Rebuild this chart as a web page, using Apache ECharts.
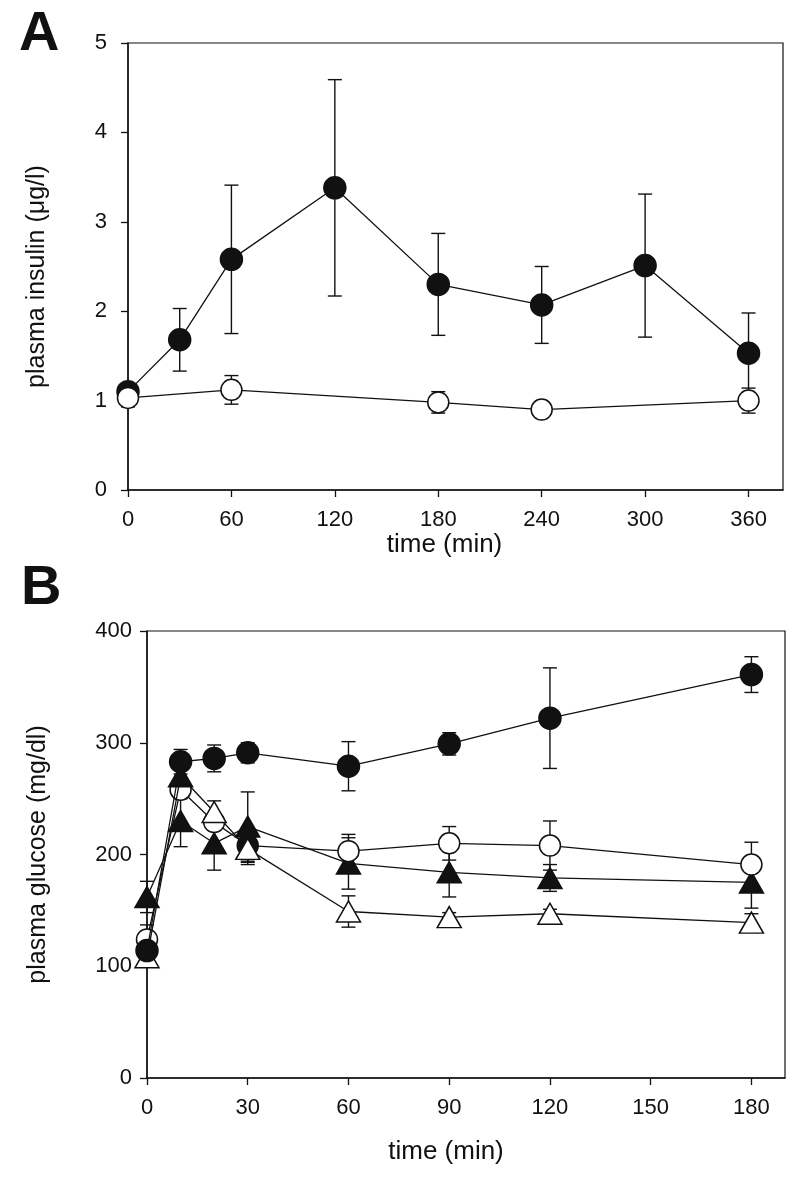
<!DOCTYPE html>
<html>
<head>
<meta charset="utf-8">
<script src="https://cdn.jsdelivr.net/npm/echarts@6/dist/echarts.min.js"></script>
<style>
html,body{margin:0;padding:0;background:#fff;}
#chart{width:800px;height:1180px;}
</style>
</head>
<body>
<div id="chart"></div>
<script>
// ---------- Panel A: plasma insulin ----------
const timeA = [0, 30, 60, 120, 180, 240, 300, 360];
const insulinFilled = [1.10, 1.68, 2.58, 3.38, 2.30, 2.07, 2.51, 1.53];
const insulinFilledErr = [0.05, 0.35, 0.83, 1.21, 0.57, 0.43, 0.80, 0.45];
const timeAOpen = [0, 60, 180, 240, 360];
const insulinOpen = [1.03, 1.12, 0.98, 0.90, 1.00];
const insulinOpenErr = [0.10, 0.16, 0.12, 0.04, 0.14];
const ticksAX = [0, 60, 120, 180, 240, 300, 360];

// ---------- Panel B: plasma glucose ----------
const timeB = [0, 10, 20, 30, 60, 90, 120, 180];
const glucFilledCircle = [114, 283, 286, 291, 279, 299, 322, 361];
const glucFilledCircleErr = [5, 11, 12, 9, 22, 10, 45, 16];
const glucOpenCircle = [124, 258, 229, 208, 203, 210, 208, 191];
const glucOpenCircleErr = [13, 8, 6, 15, 15, 15, 22, 20];
const glucFilledTri = [162, 230, 210, 225, 192, 184, 179, 175];
const glucFilledTriErr = [14, 23, 24, 31, 23, 22, 12, 23];
const glucOpenTri = [108, 270, 238, 205, 149, 144, 147, 139];
const glucOpenTriErr = [5, 8, 10, 14, 14, 4, 4, 8];
const ticksBX = [0, 30, 60, 90, 120, 150, 180];

const FONT = 'Liberation Sans, Arial, sans-serif';
const INK = '#111';

function pts(t, v, e) { return t.map((x, i) => e ? [x, v[i], e[i]] : [x, v[i]]); }

function errRender(params, api) {
  const x = api.value(0), y = api.value(1), e = api.value(2);
  const top = api.coord([x, y + e]);
  const bot = api.coord([x, y - e]);
  const hw = 7;
  const st = { stroke: INK, lineWidth: 1.4 };
  return { type: 'group', children: [
    { type: 'line', shape: { x1: top[0], y1: top[1], x2: bot[0], y2: bot[1] }, style: st },
    { type: 'line', shape: { x1: top[0] - hw, y1: top[1], x2: top[0] + hw, y2: top[1] }, style: st },
    { type: 'line', shape: { x1: bot[0] - hw, y1: bot[1], x2: bot[0] + hw, y2: bot[1] }, style: st }
  ]};
}

function errSeries(idx, data) {
  return { type: 'custom', xAxisIndex: idx, yAxisIndex: idx, renderItem: errRender,
    data: data, z: 1, silent: true, animation: false };
}
function lineSeries(idx, data, symbol, size, fill, z) {
  return { type: 'line', xAxisIndex: idx, yAxisIndex: idx, data: data, symbol: symbol,
    symbolSize: size, showSymbol: true, z: z, silent: true, animation: false,
    lineStyle: { color: INK, width: 1.3 },
    itemStyle: { color: fill, borderColor: INK, borderWidth: 1.5 },
    emphasis: { disabled: true } };
}

function axis(extra, labelExtra, tickVals) {
  const a = {
    type: 'value',
    axisLine: { show: true, onZero: false, lineStyle: { color: INK, width: 1.5 } },
    axisTick: { show: true, length: 7, inside: false, lineStyle: { color: INK, width: 1.3 } },
    splitLine: { show: false },
    axisLabel: Object.assign({ color: INK, fontSize: 22, fontFamily: FONT }, labelExtra),
    nameTextStyle: { color: INK, fontSize: 25, fontFamily: FONT },
    nameLocation: 'middle'
  };
  if (tickVals) { a.axisLabel.customValues = tickVals; a.axisTick.customValues = tickVals; }
  return Object.assign(a, extra);
}

// data points that appear dark in the figure because of overlaps
const openTriData = pts(timeB, glucOpenTri).map((p, i) => i === 1 ? { value: p, itemStyle: { color: INK } } : p);
const openCircData = pts(timeB, glucOpenCircle).map((p, i) => i === 3 ? { value: p, itemStyle: { color: INK } } : p);

const option = {
  backgroundColor: '#fff',
  animation: false,
  graphic: [
    { type: 'text', left: 19, top: 7, style: { text: 'A', font: 'bold 56px ' + FONT, fill: INK } },
    { type: 'text', left: 21, top: 561, style: { text: 'B', font: 'bold 56px ' + FONT, fill: INK } }
  ],
  grid: [
    { left: 128, top: 43, width: 655, height: 447, show: true, borderColor: INK, borderWidth: 1.2, backgroundColor: 'transparent' },
    { left: 147, top: 631, width: 638, height: 447, show: true, borderColor: INK, borderWidth: 1.2, backgroundColor: 'transparent' }
  ],
  xAxis: [
    axis({ gridIndex: 0, min: 0, max: 380, name: 'time (min)', nameGap: 42,
      nameTextStyle: { color: INK, fontSize: 26, fontFamily: FONT, padding: [0, 22, 0, 0] } }, { margin: 19 }, ticksAX),
    axis({ gridIndex: 1, min: 0, max: 190, name: 'time (min)', nameGap: 61,
      nameTextStyle: { color: INK, fontSize: 26, fontFamily: FONT, padding: [0, 40, 0, 0] } }, { margin: 19 }, ticksBX)
  ],
  yAxis: [
    axis({ gridIndex: 0, min: 0, max: 5, interval: 1, name: 'plasma insulin (μg/l)', nameGap: 78,
      nameTextStyle: { color: INK, fontSize: 25, fontFamily: FONT, padding: [0, 20, 0, 0] } }, { margin: 21 }),
    axis({ gridIndex: 1, min: 0, max: 400, interval: 100, name: 'plasma glucose (mg/dl)', nameGap: 96 }, { margin: 15 })
  ],
  series: [
    errSeries(0, pts(timeA, insulinFilled, insulinFilledErr)),
    errSeries(0, pts(timeAOpen, insulinOpen, insulinOpenErr)),
    lineSeries(0, pts(timeA, insulinFilled), 'circle', 22, INK, 3),
    lineSeries(0, pts(timeAOpen, insulinOpen), 'circle', 21, '#fff', 4),

    errSeries(1, pts(timeB, glucFilledTri, glucFilledTriErr)),
    errSeries(1, pts(timeB, glucOpenCircle, glucOpenCircleErr)),
    errSeries(1, pts(timeB, glucOpenTri, glucOpenTriErr)),
    errSeries(1, pts(timeB, glucFilledCircle, glucFilledCircleErr)),
    lineSeries(1, pts(timeB, glucFilledTri), 'triangle', [24, 21], INK, 3),
    lineSeries(1, openCircData, 'circle', 21, '#fff', 4),
    lineSeries(1, openTriData, 'triangle', [24, 21], '#fff', 5),
    lineSeries(1, pts(timeB, glucFilledCircle), 'circle', 22, INK, 6)
  ]
};

const chart = echarts.init(document.getElementById('chart'), null, { renderer: 'canvas' });
chart.setOption(option);
</script>
</body>
</html>
